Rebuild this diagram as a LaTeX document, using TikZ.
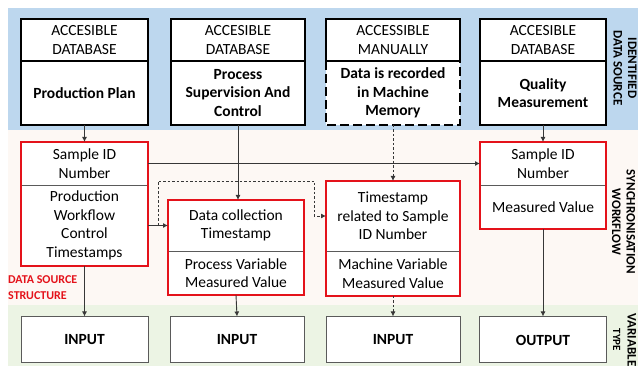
\documentclass[tikz,border=0pt]{standalone}
\usepackage{fontspec}
\setmainfont{Carlito}
\usetikzlibrary{arrows.meta}

\definecolor{bandblue}{RGB}{189,215,238}
\definecolor{bandpink}{RGB}{253,248,244}
\definecolor{bandgreen}{RGB}{236,244,228}
\definecolor{boxred}{RGB}{228,18,26}
\definecolor{linkgray}{RGB}{55,55,55}
\definecolor{rulegray}{RGB}{90,90,90}

\begin{document}
\begin{tikzpicture}[x=1pt,y=-1pt,
  txt/.style={font=\fontsize{15.5}{18.5}\selectfont},
  boldtxt/.style={font=\fontsize{15.5}{18.5}\selectfont\bfseries},
  cell/.style={draw=none, fill=white, inner sep=0pt, outer sep=0pt, align=center},
  srcframe/.style={draw=black, line width=2pt},
  srcdash/.style={draw=black, line width=2pt, dash pattern=on 9pt off 4pt},
  redframe/.style={draw=boxred, line width=2.6pt},
  divider/.style={draw=rulegray, line width=0.9pt},
  typebox/.style={draw=rulegray, line width=1pt, fill=white, inner sep=0pt,
    minimum height=46pt, font=\fontsize{15.5}{18.5}\selectfont\bfseries},
  link/.style={draw=linkgray, line width=0.9pt, -{Latex[length=5pt,width=5pt]}},
  dashlink/.style={dash pattern=on 2.5pt off 2pt},
  sidelabel/.style={rotate=-90, align=center, inner sep=0pt,
    font=\fontsize{13}{14.5}\selectfont\bfseries}
]
\useasboundingbox (0,0) rectangle (638,366);

% background bands
\fill[bandblue]  (8,8)   rectangle (638,130);
\fill[bandpink]  (8,130) rectangle (638,305);
\fill[bandgreen] (8,305) rectangle (638,366);

% ---- identified data sources ----
\node[cell, txt, minimum width=127pt, minimum height=42pt] (s1h) at (84.5,40) {ACCESIBLE\\DATABASE};
\node[cell, boldtxt, minimum width=127pt, minimum height=64pt] (s1b) at (84.5,93) {Production Plan};
\node[cell, txt, minimum width=134pt, minimum height=42pt] (s2h) at (238,40) {ACCESIBLE\\DATABASE};
\node[cell, boldtxt, minimum width=134pt, minimum height=64pt] (s2b) at (238,93) {Process\\Supervision And\\Control};
\node[cell, txt, minimum width=134pt, minimum height=42pt] (s3h) at (393,40) {ACCESSIBLE\\MANUALLY};
\node[cell, boldtxt, minimum width=134pt, minimum height=64pt] (s3b) at (393,93) {Data is recorded\\in Machine\\Memory};
\node[cell, txt, minimum width=126pt, minimum height=42pt] (s4h) at (543,40) {ACCESIBLE\\DATABASE};
\node[cell, boldtxt, minimum width=126pt, minimum height=64pt] (s4b) at (543,93) {Quality\\Measurement};

\foreach \s in {s1,s2,s4}{
  \draw[srcframe] (\s h.north west) rectangle (\s b.south east);
  \draw[srcframe] (\s h.south west) -- (\s h.south east);
}
\draw[srcframe] (s3h.north west) rectangle (s3h.south east);
\draw[srcdash] (s3h.south west) -- (s3b.south west) -- (s3b.south east) -- (s3h.south east);

% ---- synchronisation workflow ----
\node[cell, txt, minimum width=127pt, minimum height=43pt] (ah) at (84.5,163.5) {Sample ID\\Number};
\node[cell, txt, minimum width=127pt, minimum height=81pt] (ab) at (84.5,225.5) {Production\\Workflow\\Control\\Timestamps};
\node[cell, txt, minimum width=136pt, minimum height=51pt] (bh) at (236,225.5) {Data collection\\Timestamp};
\node[cell, txt, minimum width=136pt, minimum height=44pt] (bb) at (236,273) {Process Variable\\Measured Value};
\node[cell, txt, minimum width=134pt, minimum height=70pt] (ch) at (393,216) {Timestamp\\related to Sample\\ID Number};
\node[cell, txt, minimum width=134pt, minimum height=45pt] (cb) at (393,273.5) {Machine Variable\\Measured Value};
\node[cell, txt, minimum width=126pt, minimum height=43pt] (dh) at (543,163.5) {Sample ID\\Number};
\node[cell, txt, minimum width=126pt, minimum height=44pt] (db) at (543,207) {Measured Value};

\foreach \s in {a,b,c,d}{
  \draw[divider] (\s h.south west) -- (\s h.south east);
  \draw[redframe] (\s h.north west) rectangle (\s b.south east);
}

\node[anchor=west, align=left, inner sep=0pt, text=boxred,
  font=\fontsize{12}{16}\selectfont\bfseries] (dss) at (8,288) {DATA SOURCE\\STRUCTURE};

% ---- variable type ----
\node[typebox, minimum width=127pt] (v1) at (84.5,340) {INPUT};
\node[typebox, minimum width=134pt] (v2) at (237,340) {INPUT};
\node[typebox, minimum width=134pt] (v3) at (393,340) {INPUT};
\node[typebox, minimum width=127pt] (v4) at (543,340) {OUTPUT};

% ---- band captions ----
\node[sidelabel] (capsrc) at (625,68) {IDENTIFIED\\DATA SOURCE};
\node[sidelabel] (capsync) at (623.5,222) {SYNCHRONISATION\\WORKFLOW};
\node[sidelabel] (captype) at (624.5,340) {VARIABLE\\{\fontsize{11}{12}\selectfont TYPE}};

% ---- connectors ----
\draw[link] (s1b.south) -- (ah.north);
\draw[link] (s2b.south) -- (s2b.south |- bh.north);
\draw[link, dashlink] (s3b.south) -- (ch.north);
\draw[link] (s4b.south) -- (dh.north);

\draw[link] (ah.east) -- (dh.west);
\draw[link] (ab.east) -- (bh.west);
\coordinate (fork) at (158,225.5);
\coordinate (bend) at (314,181);
\draw[link, dashlink] (fork) |- (bend) |- (ch.west);

\draw[link] (ab.south) -- (v1.north);
\draw[link] (bb.south) -- (v2.north);
\draw[link, dashlink] (cb.south) -- (v3.north);
\draw[link] (db.south) -- (v4.north);
\end{tikzpicture}
\end{document}
